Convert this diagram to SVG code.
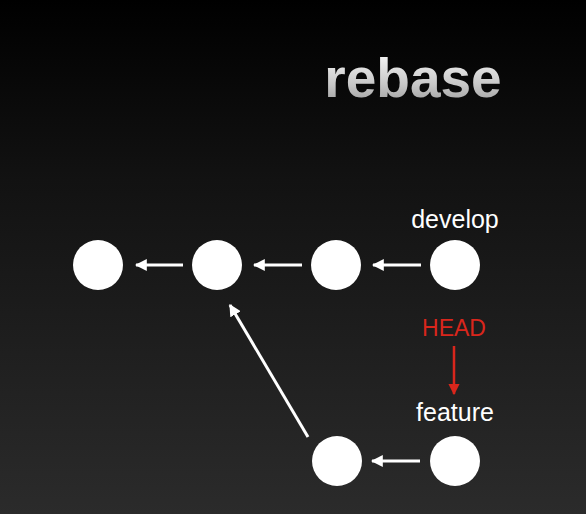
<svg xmlns="http://www.w3.org/2000/svg" width="586" height="514" viewBox="0 0 586 514">
<defs>
<linearGradient id="bg" x1="0" y1="0" x2="0" y2="1">
<stop offset="0" stop-color="#000000"/>
<stop offset="0.35" stop-color="#121212"/>
<stop offset="1" stop-color="#2b2b2b"/>
</linearGradient>
<linearGradient id="tg" x1="0" y1="0" x2="0" y2="1">
<stop offset="0" stop-color="#ffffff"/>
<stop offset="0.6" stop-color="#c8c8c8"/>
<stop offset="1" stop-color="#959595"/>
</linearGradient>
<marker id="ah" viewBox="0 0 10 10" refX="9" refY="5" markerWidth="4" markerHeight="4" orient="auto" markerUnits="strokeWidth">
<path d="M0,0 L10,5 L0,10 Z" fill="#ffffff"/>
</marker>
<marker id="ahr" viewBox="0 0 10 10" refX="9" refY="5" markerWidth="4.5" markerHeight="4.5" orient="auto" markerUnits="strokeWidth">
<path d="M0,0 L10,5 L0,10 Z" fill="#d9261c"/>
</marker>
<style>
.c{fill:#ffffff}
.l{stroke:#ffffff;stroke-width:3;fill:none;marker-end:url(#ah)}
.t{font-family:"Liberation Sans",Arial,sans-serif;font-size:25px;fill:#ffffff;text-anchor:middle}
</style>
</defs>
<rect width="586" height="514" fill="url(#bg)"/>
<text x="413" y="97" font-family="Liberation Sans, Arial, sans-serif" font-weight="bold" font-size="55" fill="url(#tg)" text-anchor="middle">rebase</text>
<g id="c1"><circle class="c" cx="98" cy="265" r="25"/></g>
<g id="c2"><circle class="c" cx="217" cy="265" r="25"/></g>
<g id="c3"><circle class="c" cx="336" cy="265" r="25"/></g>
<g id="c4"><circle class="c" cx="455" cy="265" r="25"/><text class="t" x="455" y="228">develop</text></g>
<g id="f1"><circle class="c" cx="337" cy="461" r="25"/></g>
<g id="f2"><circle class="c" cx="455" cy="461" r="25"/><text class="t" x="455" y="421">feature</text></g>
<g id="head"><text class="t" x="454" y="336" style="fill:#d9261c;font-size:23px">HEAD</text></g>
<g id="connectors">
<line class="l" x1="183" y1="265" x2="136" y2="265"/>
<line class="l" x1="302" y1="265" x2="254" y2="265"/>
<line class="l" x1="421" y1="265" x2="373" y2="265"/>
<line class="l" x1="420" y1="461" x2="372" y2="461"/>
<line class="l" x1="308" y1="437" x2="230" y2="305"/>
<line x1="454" y1="346" x2="454" y2="394" stroke="#d9261c" stroke-width="2.5" marker-end="url(#ahr)"/>
</g>
</svg>
